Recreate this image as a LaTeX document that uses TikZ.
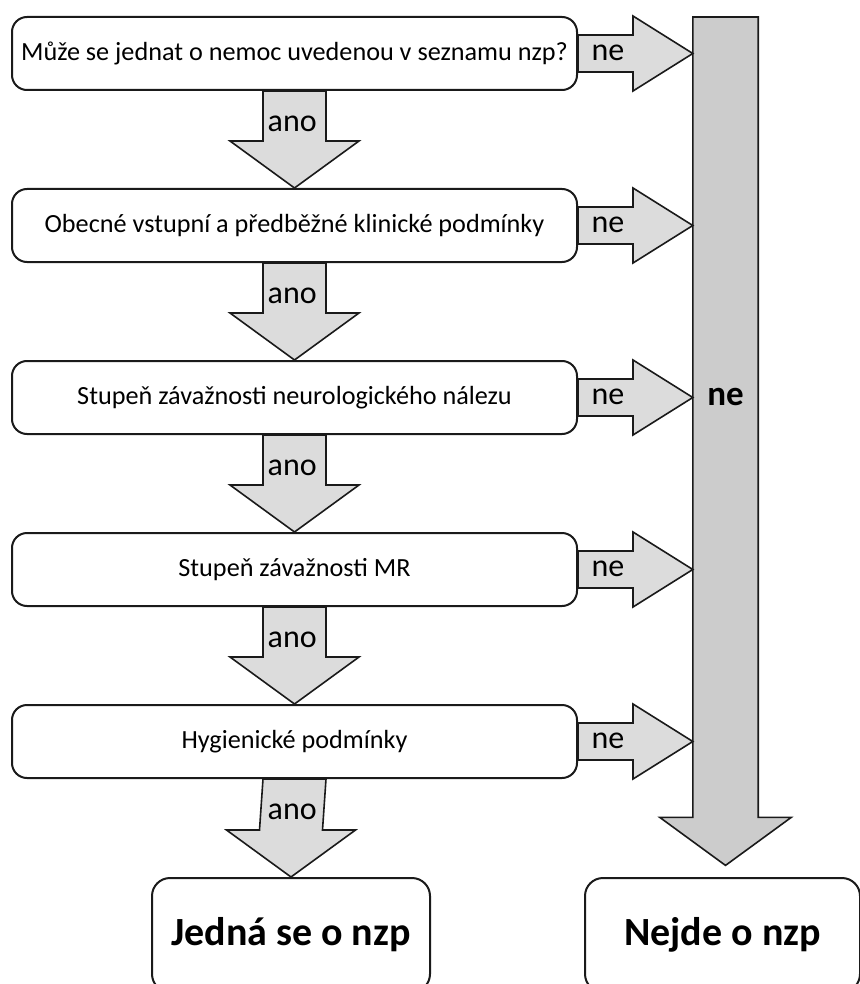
\documentclass[tikz,border=0pt]{standalone}
\usepackage{fontspec}
\setmainfont{Carlito}
\usepackage{tikz}
\usetikzlibrary{positioning, calc}
\definecolor{edge}{HTML}{1A1A1A}
\definecolor{arrowfill}{HTML}{DCDCDC}
\definecolor{barfill}{HTML}{CCCCCC}
\tikzstyle{qbox}    = [rectangle, rounded corners=15pt, draw=edge, line width=2pt,
                       fill=white, minimum width=565pt, minimum height=73pt,
                       inner sep=0pt, font=\fontsize{26.2}{30}\selectfont]
\tikzstyle{endbox}  = [rectangle, rounded corners=18pt, draw=edge, line width=2pt,
                       fill=white, minimum height=114pt, inner sep=0pt,
                       font=\fontsize{40}{46}\selectfont\bfseries]
\tikzstyle{barrow}  = [draw=edge, line width=1.6pt, fill=arrowfill, line join=miter]
\tikzstyle{lbl}     = [font=\fontsize{32}{36}\selectfont, inner sep=0pt]

\begin{document}
\begin{tikzpicture}[x=1pt, y=1pt]
  \useasboundingbox (0,0) rectangle (859,-984);

  %% Questions
  \node[qbox] (q1) at (294.5,-53.5) {Může se jednat o nemoc uvedenou v seznamu nzp?};
  \node[qbox, below=97pt of q1] (q2) {Obecné vstupní a předběžné klinické podmínky};
  \node[qbox, below=97pt of q2] (q3) {Stupeň závažnosti neurologického nálezu};
  \node[qbox, below=97pt of q3] (q4) {Stupeň závažnosti MR};
  \node[qbox, below=97pt of q4] (q5) {Hygienické podmínky};

  %% Results
  \node[endbox, minimum width=278pt, below=98pt of q5, xshift=-3.5pt] (yes) {Jedná se o nzp};
  \node[endbox, minimum width=275pt, right=153pt of yes] (no) {Nejde o nzp};

  %% Collecting bar
  \node[minimum width=65pt, minimum height=800pt, inner sep=0pt, anchor=north]
        (bar) at (725.5,-17) {};
  \draw[barrow, fill=barfill] (bar.north west) -- (bar.south west) -- ++(-33,0)
        -- ($(bar.south)+(0,-48)$) -- ($(bar.south east)+(33,0)$)
        -- (bar.south east) -- (bar.north east) -- cycle;
  \node[lbl, font=\fontsize{35}{40}\selectfont\bfseries] at (bar |- q3) {ne};

  %% ano arrows
  \foreach \a/\b in {q1/q2, q2/q3, q3/q4, q4/q5, q5/yes} {
    \draw[barrow] ($(\a.south)+(-31.5,0)$) -- ($(\b.north)+(-31.5,47)$) -- ++(-33,0)
          -- ($(\b.north)+(0,0)$) -- ++(64.5,47) -- ++(-33,0)
          -- ($(\a.south)+(31.5,0)$) -- cycle;
    \node[lbl, anchor=west] at ($(\a.south)+(-27,-33)$) {ano};
  }

  %% ne arrows
  \foreach \a in {q1, q2, q3, q4, q5} {
    \draw[barrow] ($(\a.east)+(0,18.5)$) -- ++(55,0) -- ++(0,19)
          -- (\a.east -| bar.west) -- ($(\a.east)+(55,-37.5)$) -- ++(0,19)
          -- ($(\a.east)+(0,-18.5)$) -- cycle;
    \node[lbl] at ($(\a.east)+(30,1)$) {ne};
  }

\end{tikzpicture}
\end{document}
